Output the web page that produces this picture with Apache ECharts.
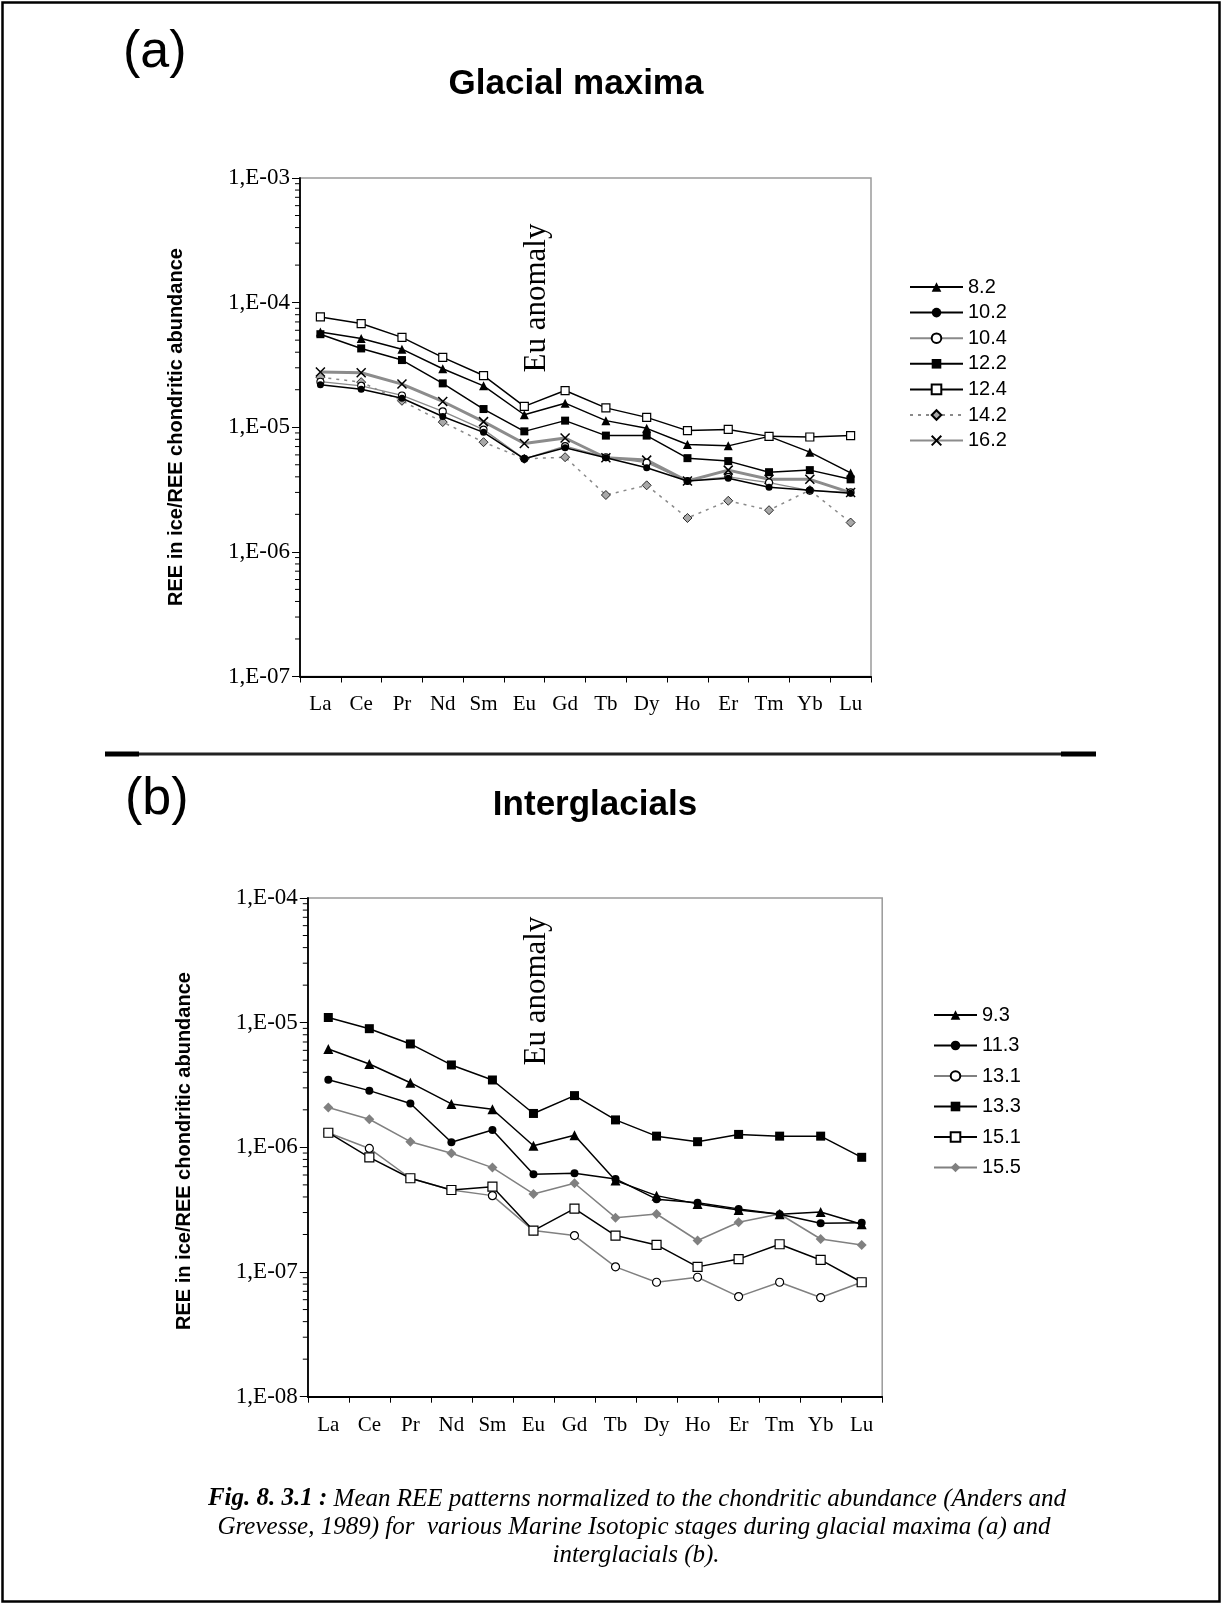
<!DOCTYPE html>
<html>
<head>
<meta charset="utf-8">
<script src="https://cdn.jsdelivr.net/npm/echarts@6/dist/echarts.min.js"></script>
<style>html,body{margin:0;padding:0;background:#fff}#c{width:1223px;height:1605px}</style>
</head>
<body>
<div id="c"></div>
<script>
// ---------- DATA ----------
const categories = ['La','Ce','Pr','Nd','Sm','Eu','Gd','Tb','Dy','Ho','Er','Tm','Yb','Lu'];

// (a) Glacial maxima
const namesA = ['8.2','10.2','10.4','12.2','12.4','14.2','16.2'];
const s8_2  = [5.82e-5,5.15e-5,4.23e-5,2.95e-5,2.15e-5,1.26e-5,1.56e-5,1.13e-5,9.8e-6,7.27e-6,7.09e-6,8.45e-6,6.31e-6,4.30e-6];
const s10_2 = [2.19e-5,2.02e-5,1.71e-5,1.22e-5,9.1e-6,5.58e-6,6.84e-6,5.69e-6,4.73e-6,3.70e-6,3.90e-6,3.30e-6,3.12e-6,2.95e-6];
const s10_4 = [2.32e-5,2.15e-5,1.80e-5,1.34e-5,9.57e-6,5.58e-6,7.05e-6,5.75e-6,5.2e-6,3.70e-6,4.0e-6,3.6e-6,3.1e-6,3.0e-6];
const s12_2 = [5.58e-5,4.29e-5,3.46e-5,2.25e-5,1.40e-5,9.27e-6,1.13e-5,8.57e-6,8.57e-6,5.65e-6,5.35e-6,4.36e-6,4.53e-6,3.82e-6];
const s12_4 = [7.68e-5,6.79e-5,5.26e-5,3.64e-5,2.60e-5,1.47e-5,1.97e-5,1.43e-5,1.20e-5,9.4e-6,9.6e-6,8.45e-6,8.35e-6,8.57e-6];
const s14_2 = [2.52e-5,2.3e-5,1.63e-5,1.10e-5,7.59e-6,5.58e-6,5.75e-6,2.86e-6,3.42e-6,1.87e-6,2.57e-6,2.16e-6,3.13e-6,1.72e-6];
const s16_2 = [2.78e-5,2.74e-5,2.22e-5,1.61e-5,1.11e-5,7.40e-6,8.20e-6,5.69e-6,5.45e-6,3.70e-6,4.53e-6,3.82e-6,3.82e-6,2.99e-6];

// (b) Interglacials
const namesB = ['9.3','11.3','13.1','13.3','15.1','15.5'];
const s9_3  = [6.15e-6,4.66e-6,3.30e-6,2.23e-6,2.02e-6,1.03e-6,1.25e-6,5.41e-7,4.10e-7,3.52e-7,3.15e-7,2.91e-7,3.03e-7,2.42e-7];
const s11_3 = [3.49e-6,2.85e-6,2.25e-6,1.10e-6,1.38e-6,6.08e-7,6.2e-7,5.58e-7,3.84e-7,3.60e-7,3.21e-7,2.91e-7,2.46e-7,2.49e-7];
const s13_1 = [1.31e-6,9.8e-7,5.65e-7,4.55e-7,4.10e-7,2.15e-7,1.96e-7,1.10e-7,8.28e-8,9.08e-8,6.35e-8,8.28e-8,6.24e-8,8.28e-8];
const s13_3 = [1.10e-5,8.95e-6,6.75e-6,4.58e-6,3.47e-6,1.87e-6,2.60e-6,1.66e-6,1.23e-6,1.11e-6,1.27e-6,1.23e-6,1.23e-6,8.32e-7];
const s15_1 = [1.31e-6,8.32e-7,5.65e-7,4.55e-7,4.84e-7,2.15e-7,3.22e-7,1.96e-7,1.65e-7,1.10e-7,1.27e-7,1.67e-7,1.25e-7,8.28e-8];
const s15_5 = [2.09e-6,1.68e-6,1.11e-6,8.97e-7,6.88e-7,4.23e-7,5.15e-7,2.73e-7,2.92e-7,1.79e-7,2.51e-7,2.92e-7,1.84e-7,1.65e-7];

// axis ranges
const yRangeA = [1e-7, 1e-3];
const yRangeB = [1e-8, 1e-4];
const minorMultipliers = [2,3,4,5,6,7,8,9];

// ---------- STYLE ----------
const SERIF = '"Liberation Serif","Times New Roman",serif';
const SANS = '"Liberation Sans",Arial,sans-serif';
const XMARK = 'path://M0,0L10,10M10,0L0,10';

function fmtY(v){
  const e = Math.round(-Math.log10(v));
  return '1,E-' + (e < 10 ? '0' + e : '' + e);
}

function mk(name, data, idx, o){
  return {
    name: name, type: 'line', xAxisIndex: idx, yAxisIndex: idx, data: data,
    symbol: o.symbol, symbolSize: o.size, showSymbol: true,
    lineStyle: { color: o.line, width: o.lw, type: o.dash || 'solid' },
    itemStyle: { color: o.fill, borderColor: o.border || o.fill, borderWidth: o.bw || 0 },
    emphasis: { disabled: true }, animation: false, z: o.z || 2
  };
}

const series = [
  mk('16.2', s16_2, 0, {symbol: XMARK, size: 9, line: '#8c8c8c', lw: 3, fill: 'rgba(0,0,0,0)', border: '#000', bw: 1.5, z: 2}),
  mk('14.2', s14_2, 0, {symbol: 'diamond', size: 9, line: '#8a8a8a', lw: 1.5, dash: [3,5], fill: '#a8a8a8', border: '#000', bw: 0.8, z: 2}),
  mk('10.4', s10_4, 0, {symbol: 'circle', size: 7, line: '#8a8a8a', lw: 1.3, fill: '#fff', border: '#000', bw: 1.1, z: 3}),
  mk('10.2', s10_2, 0, {symbol: 'circle', size: 7, line: '#000', lw: 1.5, fill: '#000', z: 3}),
  mk('12.2', s12_2, 0, {symbol: 'rect', size: 8, line: '#000', lw: 1.5, fill: '#000', z: 4}),
  mk('8.2',  s8_2,  0, {symbol: 'triangle', size: 9, line: '#000', lw: 1.5, fill: '#000', z: 4}),
  mk('12.4', s12_4, 0, {symbol: 'rect', size: 8, line: '#000', lw: 1.5, fill: '#fff', border: '#000', bw: 1.2, z: 4}),

  mk('15.5', s15_5, 1, {symbol: 'diamond', size: 10, line: '#808080', lw: 1.5, fill: '#808080', z: 2}),
  mk('13.1', s13_1, 1, {symbol: 'circle', size: 8, line: '#808080', lw: 1.5, fill: '#fff', border: '#000', bw: 1.2, z: 2}),
  mk('15.1', s15_1, 1, {symbol: 'rect', size: 9, line: '#000', lw: 1.5, fill: '#fff', border: '#000', bw: 1.2, z: 3}),
  mk('11.3', s11_3, 1, {symbol: 'circle', size: 8, line: '#000', lw: 1.5, fill: '#000', z: 3}),
  mk('9.3',  s9_3,  1, {symbol: 'triangle', size: 10, line: '#000', lw: 1.5, fill: '#000', z: 3}),
  mk('13.3', s13_3, 1, {symbol: 'rect', size: 9, line: '#000', lw: 1.5, fill: '#000', z: 3})
];

const grids = [
  { left: 300, top: 178, width: 571, height: 498.5, show: true, borderColor: '#9a9a9a', borderWidth: 1.5, backgroundColor: 'rgba(0,0,0,0)' },
  { left: 307.8, top: 898, width: 574.4, height: 498.7, show: true, borderColor: '#9a9a9a', borderWidth: 1.5, backgroundColor: 'rgba(0,0,0,0)' }
];

function xAx(i, margin){
  return {
    type: 'category', gridIndex: i, data: categories, boundaryGap: true,
    axisLine: { show: true, lineStyle: { color: '#000', width: 1.8 } },
    axisTick: { show: true, inside: false, length: 6, interval: 0, alignWithLabel: false, lineStyle: { color: '#000', width: 1 } },
    axisLabel: { interval: 0, margin: margin, color: '#000', fontFamily: SERIF, fontSize: 21 },
    splitLine: { show: false }
  };
}
function yAx(i, range){
  return {
    type: 'log', logBase: 10, gridIndex: i, min: range[0], max: range[1],
    axisLine: { show: true, onZero: false, lineStyle: { color: '#000', width: 1.8 } },
    axisTick: { show: true, inside: false, length: 8, lineStyle: { color: '#000', width: 1 } },
    axisLabel: { margin: 10, color: '#000', fontFamily: SERIF, fontSize: 23, formatter: fmtY },
    splitLine: { show: false }, minorTick: { show: false }
  };
}

function legend(names, left, top, w, gap){
  return {
    data: names, orient: 'vertical', left: left, top: top, itemWidth: w, itemHeight: 12, itemGap: gap,
    textStyle: { color: '#000', fontFamily: SANS, fontSize: 20, lineHeight: 20 },
    selectedMode: false, padding: 0
  };
}

const baseGraphics = [
  { type: 'rect', shape: { x: 2.5, y: 2.5, width: 1217, height: 1599 }, style: { fill: 'none', stroke: '#000', lineWidth: 2.5 }, z: 100 },
  { type: 'line', shape: { x1: 105, y1: 754, x2: 1096, y2: 754 }, style: { stroke: '#222', lineWidth: 3 } },
  { type: 'line', shape: { x1: 105, y1: 754, x2: 139, y2: 754 }, style: { stroke: '#000', lineWidth: 5 } },
  { type: 'line', shape: { x1: 1061, y1: 754, x2: 1096, y2: 754 }, style: { stroke: '#000', lineWidth: 5 } },
  { type: 'text', x: 123, y: 53, style: { text: '(a)', fill: '#000', font: '52px ' + SANS, textAlign: 'left', textVerticalAlign: 'middle' } },
  { type: 'text', x: 576, y: 84, style: { text: 'Glacial maxima', fill: '#000', font: 'bold 35px ' + SANS, textAlign: 'center', textVerticalAlign: 'middle' } },
  { type: 'text', x: 125, y: 800, style: { text: '(b)', fill: '#000', font: '52px ' + SANS, textAlign: 'left', textVerticalAlign: 'middle' } },
  { type: 'text', x: 595, y: 805, style: { text: 'Interglacials', fill: '#000', font: 'bold 35px ' + SANS, textAlign: 'center', textVerticalAlign: 'middle' } },
  { type: 'text', x: 176, y: 427, rotation: Math.PI / 2, style: { text: 'REE in ice/REE chondritic abundance', fill: '#000', font: 'bold 20px ' + SANS, textAlign: 'center', textVerticalAlign: 'middle' } },
  { type: 'text', x: 184, y: 1151, rotation: Math.PI / 2, style: { text: 'REE in ice/REE chondritic abundance', fill: '#000', font: 'bold 20px ' + SANS, textAlign: 'center', textVerticalAlign: 'middle' } },
  { type: 'text', x: 537, y: 298, rotation: Math.PI / 2, style: { text: 'Eu anomaly', fill: '#000', font: '31px ' + SERIF, textAlign: 'center', textVerticalAlign: 'middle' } },
  { type: 'text', x: 537, y: 991, rotation: Math.PI / 2, style: { text: 'Eu anomaly', fill: '#000', font: '31px ' + SERIF, textAlign: 'center', textVerticalAlign: 'middle' } },
  { type: 'text', x: 637, y: 1499, style: {
      text: '{b|Fig. 8. 3.1 :} Mean REE patterns normalized to the chondritic abundance (Anders and',
      fill: '#000', font: 'italic 25px ' + SERIF, textAlign: 'center', textVerticalAlign: 'middle',
      rich: { b: { fontWeight: 'bold', fontStyle: 'italic', fontFamily: SERIF, fontSize: 25, fill: '#000' } } } },
  { type: 'text', x: 634, y: 1527, style: { text: 'Grevesse, 1989) for  various Marine Isotopic stages during glacial maxima (a) and', fill: '#000', font: 'italic 25px ' + SERIF, textAlign: 'center', textVerticalAlign: 'middle' } },
  { type: 'text', x: 636, y: 1555, style: { text: 'interglacials (b).', fill: '#000', font: 'italic 25px ' + SERIF, textAlign: 'center', textVerticalAlign: 'middle' } }
];

const chart = echarts.init(document.getElementById('c'), null, { renderer: 'canvas', width: 1223, height: 1605 });
chart.setOption({
  backgroundColor: '#fff',
  animation: false,
  grid: grids,
  xAxis: [xAx(0, 17), xAx(1, 18)],
  yAxis: [yAx(0, yRangeA), yAx(1, yRangeB)],
  legend: [legend(namesA, 909, 277, 53, 5.6), legend(namesB, 933, 1005, 43, 10.5)],
  series: series,
  graphic: baseGraphics
});

// minor log ticks, positioned through the library's own y scales
const minor = [];
[[0, yRangeA], [1, yRangeB]].forEach(function (cfg) {
  const idx = cfg[0], r = cfg[1];
  const x0 = chart.convertToPixel({ xAxisIndex: idx }, 0) - (grids[idx].width / categories.length) / 2;
  for (let d = r[0]; d < r[1] * 0.999; d *= 10) {
    minorMultipliers.forEach(function (m) {
      const y = chart.convertToPixel({ yAxisIndex: idx }, d * m);
      minor.push({ type: 'line', shape: { x1: x0 - 5, y1: y, x2: x0, y2: y }, style: { stroke: '#000', lineWidth: 1 } });
    });
  }
});
chart.setOption({ graphic: baseGraphics.concat(minor) });
</script>
</body>
</html>
